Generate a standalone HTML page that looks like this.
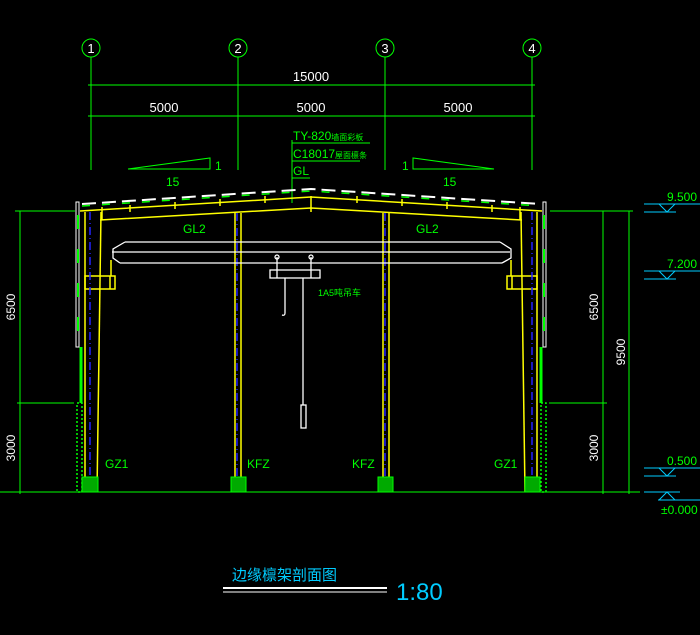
<!DOCTYPE html>
<html><head><meta charset="utf-8"><style>
html,body{margin:0;padding:0;background:#000;width:700px;height:635px;overflow:hidden}
svg{display:block}
text{font-family:"Liberation Sans","Noto Sans CJK SC",sans-serif}
</style></head><body>
<svg width="700" height="635" viewBox="0 0 700 635" xmlns="http://www.w3.org/2000/svg">
<rect width="700" height="635" fill="#000"/>
<!-- axis circles -->
<g stroke="#0f0" fill="none" stroke-width="1">
<circle cx="91" cy="48" r="9"/><circle cx="238" cy="48" r="9"/><circle cx="385" cy="48" r="9"/><circle cx="532" cy="48" r="9"/>
<line x1="91" y1="57" x2="91" y2="170"/><line x1="238" y1="57" x2="238" y2="170"/><line x1="385" y1="57" x2="385" y2="170"/><line x1="532" y1="57" x2="532" y2="170"/>
<line x1="88" y1="85" x2="535" y2="85"/><line x1="88" y1="116" x2="535" y2="116"/>
</g>
<g fill="#fff" font-size="13" text-anchor="middle">
<text x="91" y="53">1</text><text x="238" y="53">2</text><text x="385" y="53">3</text><text x="532" y="53">4</text>
<text x="311" y="81">15000</text>
<text x="164" y="112">5000</text><text x="311" y="112">5000</text><text x="458" y="112">5000</text>
</g>
<!-- slope marks -->
<g stroke="#0f0" fill="none">
<polyline points="128,169 210,158 210,169 128,169"/>
<polyline points="494,169 413,158 413,169 494,169"/>
<line x1="292" y1="140" x2="292" y2="203"/>
<line x1="292" y1="143" x2="370" y2="143"/><line x1="292" y1="161" x2="360" y2="161"/><line x1="292" y1="178" x2="310" y2="178"/>
</g>
<g fill="#0f0" font-size="12">
<text x="215" y="170">1</text><text x="166" y="186">15</text>
<text x="402" y="170">1</text><text x="443" y="186">15</text>
<text x="293" y="140">TY-820<tspan font-size="8">墙面彩板</tspan></text>
<text x="293" y="158">C18017<tspan font-size="8">屋面檩条</tspan></text>
<text x="293" y="175">GL</text>
<text x="183" y="233">GL2</text><text x="416" y="233">GL2</text>
<text x="105" y="468">GZ1</text><text x="247" y="468">KFZ</text><text x="352" y="468">KFZ</text><text x="494" y="468">GZ1</text>
<text x="318" y="296" font-size="9">1A5吨吊车</text>
</g>
<!-- roof -->
<polyline points="82,204 311,189 540,204" stroke="#fff" stroke-width="2" fill="none" stroke-dasharray="14,6"/>
<polyline points="82,206 311,191 540,206" stroke="#0f0" stroke-width="1.5" fill="none" stroke-dasharray="8,12"/>
<g stroke="#ff0" fill="none" stroke-width="1.5">
<polyline points="80,211 311,197 542,211"/>
<polyline points="100,220 311,208 522,220"/>
<line x1="85" y1="212" x2="85" y2="492"/><line x1="101" y1="212" x2="97" y2="492"/>
<line x1="537" y1="212" x2="537" y2="492"/><line x1="521" y1="212" x2="525" y2="492"/>
<line x1="235" y1="213" x2="235" y2="478"/><line x1="241" y1="213" x2="241" y2="478"/>
<line x1="383" y1="213" x2="383" y2="478"/><line x1="389" y1="213" x2="389" y2="478"/>
<rect x="85" y="276" width="30" height="13"/><line x1="110" y1="276" x2="110" y2="289"/>
<rect x="507" y="276" width="30" height="13"/><line x1="512" y1="276" x2="512" y2="289"/>
<line x1="311" y1="196" x2="311" y2="212"/>
<line x1="102" y1="207" x2="102" y2="220"/><line x1="520" y1="207" x2="520" y2="220"/>
<line x1="111" y1="260" x2="111" y2="276"/><line x1="511" y1="260" x2="511" y2="276"/>
</g>
<!-- purlin ticks -->
<g stroke="#ff0" stroke-width="1.5">
<line x1="130" y1="205" x2="130" y2="212"/><line x1="175" y1="202" x2="175" y2="209"/><line x1="220" y1="199" x2="220" y2="206"/><line x1="265" y1="196" x2="265" y2="203"/>
<line x1="357" y1="196" x2="357" y2="203"/><line x1="402" y1="199" x2="402" y2="206"/><line x1="447" y1="202" x2="447" y2="209"/><line x1="492" y1="205" x2="492" y2="212"/>
</g>
<!-- blue center lines -->
<g stroke="#22f" stroke-width="1.5" stroke-dasharray="8,3,1,3">
<line x1="90" y1="212" x2="90" y2="492"/><line x1="532" y1="212" x2="532" y2="492"/>
<line x1="237" y1="213" x2="237" y2="478"/><line x1="385" y1="213" x2="385" y2="478"/>
</g>
<!-- walls -->
<g fill="none">
<rect x="76" y="202" width="3" height="145" stroke="#fff"/>
<line x1="78" y1="215" x2="78" y2="340" stroke="#0f0" stroke-width="2" stroke-dasharray="14,20"/>
<line x1="81" y1="347" x2="81" y2="403" stroke="#0f0" stroke-width="3"/>
<rect x="543" y="202" width="3" height="145" stroke="#fff"/>
<line x1="544" y1="215" x2="544" y2="340" stroke="#0f0" stroke-width="2" stroke-dasharray="14,20"/>
<line x1="541" y1="347" x2="541" y2="403" stroke="#0f0" stroke-width="3"/>
<rect x="77" y="403" width="5" height="89" stroke="#0f0" stroke-width="1.5" stroke-dasharray="2,2"/>
<rect x="541" y="403" width="5" height="89" stroke="#0f0" stroke-width="1.5" stroke-dasharray="2,2"/>
</g>
<!-- footings -->
<g fill="#0a0" stroke="#0f0">
<rect x="82" y="477" width="16" height="15"/><rect x="231" y="477" width="15" height="15"/>
<rect x="378" y="477" width="15" height="15"/><rect x="525" y="477" width="15" height="15"/>
</g>
<!-- crane -->
<g stroke="#fff" fill="none" stroke-width="1.3">
<line x1="125" y1="242" x2="500" y2="242"/><line x1="112" y1="252" x2="510" y2="252"/><line x1="120" y1="263" x2="502" y2="263"/>
<polyline points="125,242 113,249 113,258 120,263"/><polyline points="500,242 511,249 511,258 502,263"/>
<rect x="270" y="270" width="50" height="8"/>
<line x1="277" y1="257" x2="277" y2="278"/><line x1="311" y1="257" x2="311" y2="278"/>
<circle cx="277" cy="257" r="2"/><circle cx="311" cy="257" r="2"/>
<line x1="285" y1="278" x2="285" y2="313"/><path d="M285,313 q0,3 -3,2"/>
<line x1="303" y1="278" x2="303" y2="405"/><rect x="301" y="405" width="5" height="23"/>
</g>
<!-- ground & dims -->
<g stroke="#0f0" fill="none">
<line x1="0" y1="492" x2="640" y2="492"/>
<line x1="20" y1="211" x2="20" y2="494"/><line x1="15" y1="211" x2="75" y2="211"/><line x1="17" y1="403" x2="74" y2="403"/>
<line x1="603" y1="211" x2="603" y2="494"/><line x1="629" y1="211" x2="629" y2="494"/>
<line x1="550" y1="211" x2="633" y2="211"/><line x1="549" y1="403" x2="607" y2="403"/>
</g>
<g fill="#fff" font-size="12" text-anchor="middle">
<text transform="translate(15,307) rotate(-90)">6500</text>
<text transform="translate(15,448) rotate(-90)">3000</text>
<text transform="translate(598,307) rotate(-90)">6500</text>
<text transform="translate(598,448) rotate(-90)">3000</text>
<text transform="translate(625,352) rotate(-90)">9500</text>
</g>
<!-- elevations -->
<g stroke="#0cf" fill="none">
<line x1="644" y1="204" x2="700" y2="204"/><polyline points="659,204 667,212 675,204"/><line x1="644" y1="212" x2="676" y2="212"/>
<line x1="644" y1="271" x2="700" y2="271"/><polyline points="659,271 667,279 675,271"/><line x1="644" y1="279" x2="676" y2="279"/>
<line x1="644" y1="468" x2="700" y2="468"/><polyline points="659,468 667,476 675,468"/><line x1="644" y1="476" x2="676" y2="476"/>
<line x1="644" y1="492" x2="680" y2="492"/><polyline points="659,500 667,492 675,500"/><line x1="658" y1="500" x2="700" y2="500"/>
</g>
<g fill="#0f0" font-size="12">
<text x="667" y="201">9.500</text><text x="667" y="268">7.200</text><text x="667" y="465">0.500</text><text x="661" y="514">±0.000</text>
</g>
<!-- title -->
<text x="232" y="580" fill="#0cf" font-size="15">边缘檩架剖面图</text>
<line x1="223" y1="588" x2="387" y2="588" stroke="#fff" stroke-width="2"/>
<line x1="223" y1="592" x2="387" y2="592" stroke="#fff" stroke-width="1"/>
<text x="396" y="600" fill="#0cf" font-size="24">1:80</text>
</svg>
</body></html>
